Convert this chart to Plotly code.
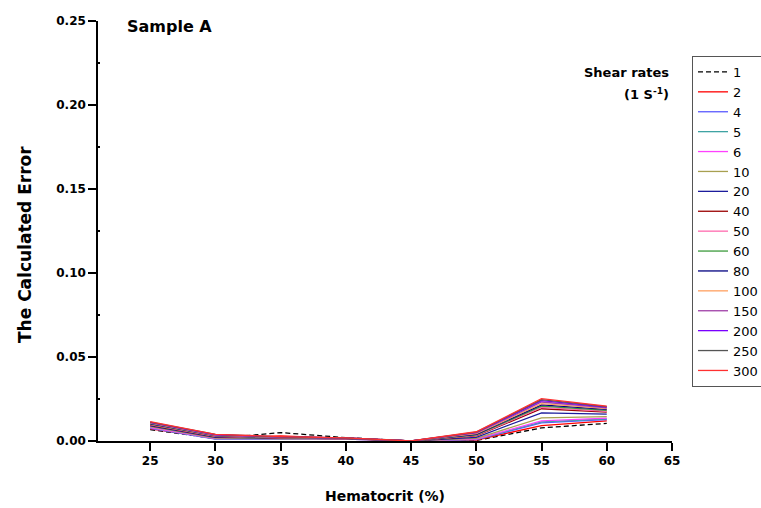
import plotly.graph_objects as go

hematocrit = [25, 30, 35, 40, 45, 50, 55, 60]
shear_rates = ["1", "2", "4", "5", "6", "10", "20", "40", "50", "60", "80", "100", "150", "200", "250", "300"]

errors = {
    "1":   [0.0068, 0.0015, 0.0050, 0.0020, 0.0, 0.0003, 0.0078, 0.0105],
    "2":   [0.0072, 0.0018, 0.0030, 0.0016, 0.0, 0.0006, 0.0092, 0.0120],
    "4":   [0.0075, 0.0012, 0.0012, 0.0012, 0.0, 0.0008, 0.0108, 0.0128],
    "5":   [0.0078, 0.0013, 0.0013, 0.0012, 0.0, 0.0010, 0.0114, 0.0132],
    "6":   [0.0080, 0.0015, 0.0014, 0.0012, 0.0, 0.0012, 0.0120, 0.0136],
    "10":  [0.0085, 0.0018, 0.0015, 0.0013, 0.0, 0.0016, 0.0138, 0.0145],
    "20":  [0.0090, 0.0022, 0.0017, 0.0014, 0.0, 0.0022, 0.0168, 0.0160],
    "40":  [0.0095, 0.0026, 0.0018, 0.0015, 0.0, 0.0030, 0.0192, 0.0172],
    "50":  [0.0097, 0.0028, 0.0019, 0.0015, 0.0, 0.0033, 0.0200, 0.0177],
    "60":  [0.0100, 0.0030, 0.0020, 0.0016, 0.0, 0.0036, 0.0207, 0.0182],
    "80":  [0.0103, 0.0032, 0.0021, 0.0016, 0.0, 0.0040, 0.0215, 0.0188],
    "100": [0.0106, 0.0034, 0.0022, 0.0017, 0.0, 0.0044, 0.0222, 0.0193],
    "150": [0.0109, 0.0036, 0.0023, 0.0017, 0.0, 0.0048, 0.0232, 0.0198],
    "200": [0.0111, 0.0037, 0.0024, 0.0018, 0.0, 0.0051, 0.0240, 0.0202],
    "250": [0.0113, 0.0039, 0.0025, 0.0018, 0.0, 0.0053, 0.0246, 0.0205],
    "300": [0.0115, 0.0040, 0.0026, 0.0019, 0.0, 0.0055, 0.0252, 0.0208],
}

colors = ["#000000", "#FF0000", "#5B5BFF", "#3FA3A3", "#FF40FF", "#A8A050", "#1C1C9C", "#9A0000",
          "#FF6AAE", "#3C9A3C", "#000080", "#FFA060", "#A040A8", "#7A00FF", "#555555", "#FF3030"]

FONT = "DejaVu Sans, Arial, sans-serif"

fig = go.Figure()
for i, sr in enumerate(shear_rates):
    fig.add_trace(go.Scatter(
        x=hematocrit, y=errors[sr], mode="lines", name=sr,
        line=dict(color=colors[i], width=1.3, dash="5px,3px" if i == 0 else "solid"),
    ))

W, H = 761, 508
L, R, T, B = 98, 672, 21, 441

def px(xp):
    return (xp - L) / (R - L)

def py(yp):
    return (B - yp) / (B - T)

fig.update_layout(
    width=W, height=H,
    margin=dict(l=L, r=W - R, t=T, b=H - B),
    paper_bgcolor="white", plot_bgcolor="white",
    font=dict(family=FONT, color="black"),
    showlegend=True,
    legend=dict(
        xref="container", yref="container",
        x=692 / W, y=1 - 56 / H, xanchor="left", yanchor="top",
        bordercolor="#555555", borderwidth=1,
        font=dict(family=FONT, size=13, color="black"),
        tracegroupgap=0, itemwidth=30, maxheight=440,
    ),
    xaxis=dict(
        range=[21, 65], tickvals=[25, 30, 35, 40, 45, 50, 55, 60, 65],
        showline=True, linecolor="black", linewidth=1.5, mirror=False,
        ticks="outside", ticklen=8, tickwidth=1.5, tickcolor="black",
        showgrid=False, zeroline=False, automargin=False,
        tickfont=dict(family=FONT, size=12, color="black", weight="bold"),
        title=dict(text="<b>Hematocrit (%)</b>", font=dict(family=FONT, size=14, color="black"), standoff=24),
    ),
    yaxis=dict(
        range=[0, 0.25], tickvals=[0.0, 0.05, 0.10, 0.15, 0.20, 0.25], tickformat=".2f",
        showline=True, linecolor="black", linewidth=1.5,
        ticks="outside", ticklen=8, tickwidth=1.5, tickcolor="black",
        minor=dict(tickvals=[0.025, 0.075, 0.125, 0.175, 0.225], ticks="inside", ticklen=2, tickcolor="black"),
        showgrid=False, zeroline=False, automargin=False,
        tickfont=dict(family=FONT, size=12, color="black", weight="bold"),
    ),
    annotations=[
        dict(text="<b>The Calculated Error</b>", textangle=-90, x=px(25), y=py(245),
             xref="paper", yref="paper", xanchor="center", yanchor="middle", showarrow=False,
             font=dict(family=FONT, size=17, color="black")),
        dict(text="<b>Sample A</b>", x=px(125), y=py(27), xref="paper", yref="paper",
             xanchor="left", yanchor="middle", showarrow=False, font=dict(family=FONT, size=16, color="black")),
        dict(text="<b>Shear rates</b>", x=px(671), y=py(72), xref="paper", yref="paper",
             xanchor="right", yanchor="middle", showarrow=False, font=dict(family=FONT, size=13, color="black")),
        dict(text="<b>(1 S<sup>-1</sup>)</b>", x=px(671), y=py(94), xref="paper", yref="paper",
             xanchor="right", yanchor="middle", showarrow=False, font=dict(family=FONT, size=13, color="black")),
    ],
)

fig.write_html("out.html")
